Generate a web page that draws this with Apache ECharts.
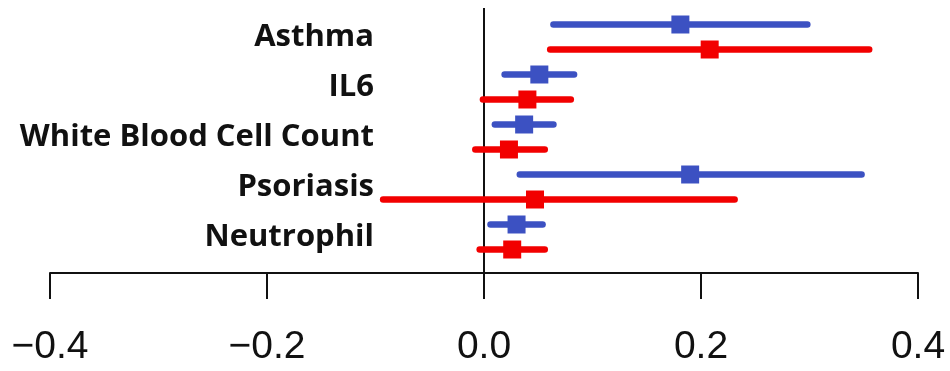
<!DOCTYPE html>
<html><head><meta charset="utf-8">
<script src="https://cdn.jsdelivr.net/npm/echarts@6/dist/echarts.min.js"></script>
<style>html,body{margin:0;padding:0;background:#fff}#c{width:950px;height:371px}</style>
</head><body><div id="c"></div>
<script>
const categories = ['Asthma', 'IL6', 'White Blood Cell Count', 'Psoriasis', 'Neutrophil'];
const xTicks = [-0.4, -0.2, 0.0, 0.2, 0.4];
// [lower, estimate, upper] per category
const blueLower = [0.064, 0.019, 0.010, 0.033, 0.006];
const blueEst   = [0.181, 0.051, 0.037, 0.190, 0.030];
const blueUpper = [0.298, 0.083, 0.064, 0.348, 0.054];
const redLower  = [0.061, -0.001, -0.008, -0.093, -0.004];
const redEst    = [0.208, 0.040, 0.023, 0.047, 0.026];
const redUpper  = [0.355, 0.080, 0.056, 0.231, 0.056];

const BLUE = '#3c51c2', RED = '#f20000';

function build(lo, est, hi) {
  return categories.map((c, i) => [i, lo[i], est[i], hi[i]]);
}
function makeRender(color, side) {
  return function (params, api) {
    const cat = api.value(0);
    const band = api.size([0, 1])[1];
    const dy = side * band * 0.25;
    const pLo = api.coord([api.value(1), cat]);
    const pEst = api.coord([api.value(2), cat]);
    const pHi = api.coord([api.value(3), cat]);
    const y = pEst[1] + dy;
    const s = 18;
    return {
      type: 'group',
      children: [
        { type: 'line', shape: { x1: pLo[0], y1: y, x2: pHi[0], y2: y },
          style: { stroke: color, lineWidth: 6.5, lineCap: 'round' } },
        { type: 'rect', shape: { x: pEst[0] - s / 2, y: y - s / 2, width: s, height: s },
          style: { fill: color } }
      ]
    };
  };
}
const chart = echarts.init(document.getElementById('c'));
chart.setOption({
  animation: false,
  grid: { left: 50, right: 32, top: 12, height: 250 },
  xAxis: {
    type: 'value', min: -0.4, max: 0.4, interval: 0.2, offset: 11,
    splitLine: { show: false },
    axisLine: { show: true, lineStyle: { color: '#111', width: 2 } },
    axisTick: { show: true, length: 26, lineStyle: { color: '#111', width: 2 } },
    axisLabel: {
      margin: 55, fontFamily: 'Liberation Sans', fontSize: 39, color: '#111',
      formatter: v => { const t = xTicks.find(k => Math.abs(k - v) < 1e-9); const s = (t === undefined ? v : t).toFixed(1); return s.replace('-', '\u2212'); }
    }
  },
  yAxis: {
    type: 'category', data: categories, inverse: true,
    axisLine: { show: false }, axisTick: { show: false }, splitLine: { show: false },
    axisLabel: { margin: -324, align: 'right', fontFamily: 'Open Sans', fontWeight: 'bold', fontSize: 31, color: '#111' }
  },
  series: [
    { type: 'custom', name: 'zero', clip: false, silent: true, z: 1,
      data: [[0]],
      renderItem: function (params, api) {
        const top = api.coord([0, 0]);
        const x = top[0];
        const yTop = params.coordSys.y - 4;
        const yBot = params.coordSys.y + params.coordSys.height + 11;
        return { type: 'line', shape: { x1: x, y1: yTop, x2: x, y2: yBot }, style: { stroke: '#111', lineWidth: 2 } };
      },
      encode: { x: 0 }
    },
    { type: 'custom', name: 'blue', data: build(blueLower, blueEst, blueUpper), renderItem: makeRender(BLUE, -1), encode: { x: [1, 2, 3], y: 0 }, z: 3 },
    { type: 'custom', name: 'red', data: build(redLower, redEst, redUpper), renderItem: makeRender(RED, 1), encode: { x: [1, 2, 3], y: 0 }, z: 3 }
  ]
});
</script></body></html>
